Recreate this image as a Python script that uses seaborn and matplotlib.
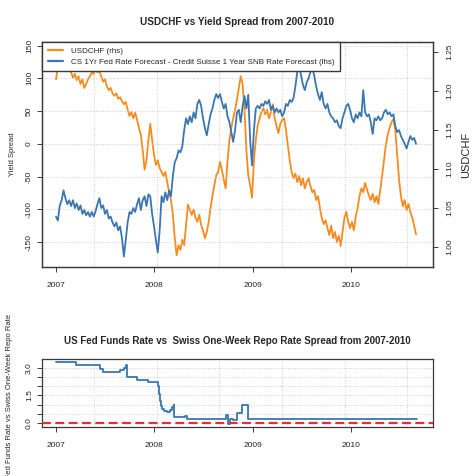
import numpy as np
import pandas as pd
import matplotlib
matplotlib.use("Agg")
import matplotlib.pyplot as plt
import matplotlib.dates as mdates
from matplotlib.transforms import Bbox, TransformedBbox
from matplotlib.lines import Line2D
import seaborn as sns

sns.set_theme(style="white")
plt.rcParams["font.family"] = ["Liberation Sans", "DejaVu Sans"]

# ---------------- data ----------------
week_start = "2007-01-01"
n_weeks = 192

usdchf = [1.215, 1.232, 1.240, 1.245, 1.248, 1.243, 1.238, 1.230, 1.224, 1.217,
          1.222, 1.214, 1.219, 1.209, 1.215, 1.204, 1.209, 1.215, 1.219, 1.224,
          1.222, 1.228, 1.224, 1.226, 1.219, 1.212, 1.215, 1.206, 1.201, 1.204,
          1.197, 1.194, 1.197, 1.190, 1.192, 1.187, 1.183, 1.186, 1.176, 1.168,
          1.173, 1.165, 1.172, 1.163, 1.153, 1.144, 1.124, 1.099, 1.111, 1.137,
          1.158, 1.137, 1.118, 1.105, 1.111, 1.101, 1.096, 1.091, 1.096, 1.083,
          1.070, 1.060, 1.041, 1.011, 0.989, 1.002, 0.996, 1.009, 1.002, 1.028,
          1.054, 1.047, 1.041, 1.048, 1.037, 1.032, 1.041, 1.028, 1.021, 1.011,
          1.019, 1.032, 1.050, 1.066, 1.079, 1.092, 1.096, 1.109, 1.099, 1.086,
          1.075, 1.111, 1.137, 1.153, 1.165, 1.176, 1.189, 1.204, 1.219, 1.209,
          1.176, 1.124, 1.092, 1.079, 1.063, 1.111, 1.137, 1.156, 1.165, 1.173,
          1.178, 1.170, 1.176, 1.165, 1.173, 1.183, 1.165, 1.155, 1.146, 1.158,
          1.163, 1.165, 1.150, 1.131, 1.111, 1.096, 1.088, 1.094, 1.083, 1.091,
          1.079, 1.088, 1.075, 1.083, 1.088, 1.078, 1.070, 1.073, 1.060, 1.065,
          1.050, 1.037, 1.029, 1.034, 1.024, 1.015, 1.027, 1.011, 1.019, 1.006,
          1.014, 1.001, 1.019, 1.037, 1.045, 1.032, 1.024, 1.032, 1.021, 1.039,
          1.050, 1.065, 1.075, 1.070, 1.082, 1.073, 1.066, 1.060, 1.068, 1.057,
          1.065, 1.055, 1.073, 1.091, 1.111, 1.131, 1.144, 1.153, 1.160, 1.164,
          1.150, 1.118, 1.086, 1.065, 1.052, 1.060, 1.047, 1.055, 1.045, 1.037,
          1.027, 1.016]

yield_spread = [-111, -117, -94, -86, -71, -83, -92, -86, -95, -86,
                -98, -91, -101, -94, -107, -101, -109, -104, -111, -104,
                -111, -103, -92, -83, -98, -94, -107, -101, -114, -111,
                -120, -126, -120, -132, -126, -144, -172, -147, -120, -104,
                -107, -98, -104, -92, -83, -101, -86, -80, -95, -77,
                -80, -107, -126, -147, -166, -132, -80, -89, -74, -86,
                -71, -80, -49, -28, -22, -10, -13, -4, 21, 39,
                30, 42, 33, 48, 39, 61, 67, 58, 39, 24,
                13, 30, 45, 54, 67, 76, 70, 76, 64, 54,
                61, 42, 33, 18, 3, 21, 48, 52, 33, 58,
                73, 54, 75, 6, -33, 21, 54, 58, 54, 61,
                58, 65, 61, 67, 52, 58, 48, 54, 48, 52,
                42, 48, 61, 58, 67, 64, 70, 88, 110, 118,
                105, 90, 82, 94, 100, 110, 116, 104, 88, 76,
                67, 79, 61, 54, 61, 48, 42, 39, 33, 36,
                27, 24, 39, 48, 58, 61, 52, 39, 33, 45,
                39, 48, 42, 82, 48, 42, 45, 33, 15, 39,
                36, 42, 36, 39, 48, 52, 45, 48, 42, 45,
                27, 18, 21, 12, 6, 0, -7, 3, 12, 6,
                9, 0]

rate_dates = ["2007-01-01", "2007-03-15", "2007-06-13", "2007-06-24", "2007-08-26",
              "2007-09-10", "2007-09-18", "2007-09-21", "2007-10-28", "2007-12-08",
              "2008-01-14", "2008-01-18", "2008-01-22", "2008-01-25", "2008-01-29",
              "2008-02-05", "2008-02-17", "2008-02-28", "2008-03-07", "2008-03-13",
              "2008-03-15", "2008-04-24", "2008-05-02", "2008-09-25", "2008-09-29",
              "2008-10-02", "2008-10-08", "2008-10-19", "2008-11-02", "2008-11-20",
              "2008-12-13", "2010-09-02"]
rate_spread = [3.36, 3.18, 2.98, 2.81, 2.88,
               3.00, 3.18, 2.54, 2.35, 2.24,
               2.00, 1.60, 1.20, 0.90, 0.75,
               0.65, 0.60, 0.70, 0.85, 0.95,
               0.33, 0.37, 0.19, 0.40, 0.30,
               -0.07, 0.22, 0.15, 0.55, 0.95,
               0.20, 0.20]

year_ticks = ["2007-01-01", "2008-01-01", "2009-01-01", "2010-01-01"]
year_labels = ["2007", "2008", "2009", "2010"]
grid_dates = ["2007-05-22", "2008-01-10", "2008-08-29", "2009-04-19",
              "2009-12-08", "2010-07-28"]
left_ticks = [-150, -100, -50, 0, 50, 100, 150]
right_ticks = [1.00, 1.05, 1.10, 1.15, 1.20, 1.25]
bottom_ticks = [0.0, 0.5, 1.0, 1.5, 2.0, 2.5, 3.0]
bottom_labels = ["0.0", "", "", "1.5", "", "", "3.0"]

ORANGE = "#F68B1F"
BLUE = "#3B76B0"
RED = "#E0313A"
FRAME = "#3a3a3a"
GRID = "#cfcfcf"

# ---------------- frames ----------------
weeks = pd.date_range(week_start, periods=n_weeks, freq="7D")
df = pd.DataFrame({"date": weeks, "usdchf": usdchf, "spread": yield_spread})
rates = pd.DataFrame({"date": pd.to_datetime(rate_dates), "spread": rate_spread})

xlim = (pd.Timestamp("2006-11-10"), pd.Timestamp("2010-11-01"))
xt = pd.to_datetime(year_ticks)
gd = pd.to_datetime(grid_dates)

fig = plt.figure(figsize=(4.74, 4.76), dpi=100)
fig.patch.set_facecolor("white")

W, H = 474.0, 476.0
def rect(l, t, r, b):
    return [l / W, 1 - b / H, (r - l) / W, (b - t) / H]

ax = fig.add_axes(rect(42, 42, 433, 267))
ax2 = ax.twinx()
ax.set_zorder(ax2.get_zorder() + 1)
ax.patch.set_visible(False)

# grid on the lower (orange) axes
for g in gd:
    ax2.axvline(g, color=GRID, lw=0.7, ls=(0, (1, 1.5)), zorder=0)

sns.lineplot(data=df, x="date", y="usdchf", ax=ax2, color=ORANGE, lw=1.3)
sns.lineplot(data=df, x="date", y="spread", ax=ax, color=BLUE, lw=1.3)

ax.set_ylim(-188, 155.5)
ax2.set_ylim(0.974, 1.263)
ax.set_xlim(*xlim)
for v in left_ticks:
    ax.axhline(v, color=GRID, lw=0.7, ls=(0, (1, 1.5)), zorder=0)

ax.set_yticks(left_ticks)
ax.set_yticklabels([str(v) for v in left_ticks])
ax2.set_yticks(right_ticks)
ax2.set_yticklabels([f"{v:.2f}" for v in right_ticks])
ax.set_xticks(xt)
ax.set_xticklabels(year_labels)

ax.set_xlabel("")
ax.set_ylabel("Yield Spread", fontsize=5.5, labelpad=7)
ax2.set_ylabel("USDCHF", fontsize=8, labelpad=6)

for a in (ax, ax2):
    a.tick_params(axis="both", which="both", length=3.5, width=0.7, color=FRAME,
                  labelsize=6, pad=3, direction="out")
    for s in a.spines.values():
        s.set_color(FRAME)
        s.set_linewidth(0.9)
ax.tick_params(axis="y", labelrotation=90, left=True)
ax.tick_params(axis="x", bottom=True, pad=7)
ax2.tick_params(axis="y", labelrotation=90, right=True, pad=6)
plt.setp(ax.get_yticklabels(), va="center")
plt.setp(ax2.get_yticklabels(), va="center")

ax.set_title("USDCHF vs Yield Spread from 2007-2010", fontsize=7.2,
             fontweight="bold", pad=12.5)

handles = [Line2D([], [], color=ORANGE, lw=1.6),
           Line2D([], [], color=BLUE, lw=1.6)]
labels = ["USDCHF (rhs)",
          "CS 1Yr Fed Rate Forecast - Credit Suisse 1 Year SNB Rate Forecast (lhs)"]
leg = ax.legend(handles, labels, loc="upper left", bbox_to_anchor=(0, 1),
                borderaxespad=0, fontsize=5.75, frameon=True, fancybox=False,
                framealpha=1, facecolor="white", edgecolor=FRAME,
                handlelength=1.9, handletextpad=1.0, borderpad=0.7,
                labelspacing=0.35)
leg.get_frame().set_linewidth(1.0)

# ---------------- bottom panel ----------------
bx = fig.add_axes(rect(42, 359, 433, 427))
for g in gd:
    bx.axvline(g, color=GRID, lw=0.7, ls=(0, (1, 1.5)), zorder=0)
for v in bottom_ticks:
    bx.axhline(v, color=GRID, lw=0.7, ls=(0, (1, 1.5)), zorder=0)
sns.lineplot(data=rates, x="date", y="spread", ax=bx, color=BLUE, lw=1.3,
             drawstyle="steps-post")
bx.axhline(0.0, color=RED, lw=1.6, ls=(0, (4, 2)), zorder=3)
bx.set_xlim(*xlim)
bx.set_ylim(-0.24, 3.51)
bx.set_xticks(xt)
bx.set_xticklabels(year_labels)
bx.set_yticks(bottom_ticks)
bx.set_yticklabels(bottom_labels)
bx.set_xlabel("")
bx.set_ylabel("")
bx.tick_params(axis="both", length=3.5, width=0.7, color=FRAME, labelsize=6,
               direction="out")
bx.tick_params(axis="y", labelrotation=90, left=True, pad=3)
bx.tick_params(axis="x", bottom=True, pad=7)
plt.setp(bx.get_yticklabels(), va="center")
for s in bx.spines.values():
    s.set_color(FRAME)
    s.set_linewidth(0.9)
bx.set_title("US Fed Funds Rate vs  Swiss One-Week Repo Rate Spread from 2007-2010",
             fontsize=7.0, fontweight="bold", pad=11)

t = fig.text(10 / W, 1 - 402 / H, "US Fed Funds Rate vs Swiss One-Week Repo Rate",
             rotation=90, fontsize=5.5, ha="center", va="center", clip_on=True)
t.set_clip_box(TransformedBbox(Bbox([[0, 0], [1, 1 - 311 / H]]), fig.transFigure))

fig.savefig("out.png", dpi=100, facecolor="white")
